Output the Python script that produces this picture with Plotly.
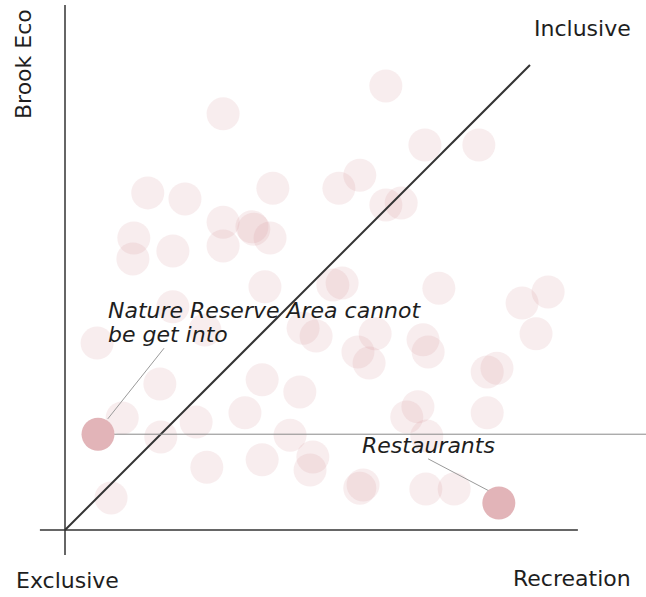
import plotly.graph_objects as go

# Background projects: x = Exclusive -> Recreation, y = Brook Eco score
proj_x = [6.90, 3.40, 7.74, 8.90, 6.34, 1.78, 2.58, 4.47, 5.89, 6.90,
          7.23, 3.40, 4.02, 4.06, 4.41, 1.48, 1.46, 2.32, 3.40, 4.30,
          5.76, 5.96, 8.04, 9.83, 10.39, 10.13, 5.12, 5.40, 6.67, 6.30,
          6.54, 7.70, 7.81, 9.08, 9.29, 5.05, 7.59, 7.35, 7.78, 9.08,
          5.33, 5.27, 6.41, 6.34, 7.76, 8.37, 2.32, 0.69, 3.01, 2.04,
          1.23, 2.06, 2.82, 4.24, 3.87, 4.84, 3.05, 4.24, 0.99]
proj_y = [9.55, 8.95, 8.28, 8.28, 7.63, 7.25, 7.12, 7.35, 7.35, 6.99,
          7.03, 6.62, 6.52, 6.47, 6.28, 6.28, 5.83, 6.00, 6.11, 5.23,
          5.27, 5.31, 5.20, 4.88, 5.12, 4.22, 4.34, 4.17, 4.22, 3.83,
          3.59, 4.09, 3.83, 3.40, 3.48, 2.97, 2.65, 2.43, 2.02, 2.52,
          1.57, 1.29, 0.97, 0.90, 0.88, 0.88, 4.80, 4.02, 4.30, 3.14,
          2.41, 2.00, 2.32, 3.23, 2.52, 2.04, 1.35, 1.51, 0.69]

# Highlighted projects
hl_names = ["Nature Reserve Area cannot<br>be get into", "Restaurants"]
hl_x = [0.71, 9.33]
hl_y = [2.06, 0.58]

# Axis extents and reference diagonal
axis_x = [-0.54, 11.03]
axis_y = [-0.54, 11.29]
diag = [0, 10]

FONT = "DejaVu Sans"
INK = "#333333"

fig = go.Figure()

fig.add_trace(go.Scatter(
    x=proj_x, y=proj_y, mode="markers",
    marker=dict(size=33, color="rgba(214,140,148,0.16)", line=dict(width=0)),
    hoverinfo="skip", showlegend=False))

# horizontal and vertical axes
fig.add_trace(go.Scatter(x=axis_x, y=[0, 0], mode="lines",
                         line=dict(color=INK, width=1.5), showlegend=False, hoverinfo="skip"))
fig.add_trace(go.Scatter(x=[0, 0], y=axis_y, mode="lines",
                         line=dict(color=INK, width=1.5), showlegend=False, hoverinfo="skip"))
# diagonal
fig.add_trace(go.Scatter(x=diag, y=diag, mode="lines",
                         line=dict(color=INK, width=2), showlegend=False, hoverinfo="skip"))
# threshold through the nature reserve point
fig.add_trace(go.Scatter(x=[hl_x[0], 12.6], y=[hl_y[0], hl_y[0]], mode="lines",
                         line=dict(color="#8a8a8a", width=1), showlegend=False, hoverinfo="skip"))
# leader lines for callouts
fig.add_trace(go.Scatter(x=[2.13, 0.92], y=[3.91, 2.39], mode="lines",
                         line=dict(color="#9a9a9a", width=1), showlegend=False, hoverinfo="skip"))
fig.add_trace(go.Scatter(x=[7.81, 9.12], y=[1.53, 0.84], mode="lines",
                         line=dict(color="#9a9a9a", width=1), showlegend=False, hoverinfo="skip"))

fig.add_trace(go.Scatter(
    x=hl_x, y=hl_y, mode="markers", text=hl_names,
    marker=dict(size=33, color="rgb(226,180,184)", line=dict(width=0)),
    hoverinfo="text", showlegend=False))

W, H = 646, 597


def px(x):
    return x / W


def py(y):
    return 1 - y / H


labels = [
    ("Inclusive", 532, 28, "left", 0, "normal"),
    ("Exclusive", 14, 580, "left", 0, "normal"),
    ("Recreation", 511, 578, "left", 0, "normal"),
    ("Brook Eco", 24, 64, "center", -90, "normal"),
    ("Nature Reserve Area cannot", 106, 310, "left", 0, "italic"),
    ("be get into", 106, 335, "left", 0, "italic"),
    ("Restaurants", 360, 445, "left", 0, "italic"),
]
for text, lx, ly, anchor, angle, style in labels:
    fig.add_annotation(
        text=text, x=px(lx), y=py(ly), xref="paper", yref="paper",
        xanchor=anchor, yanchor="middle", showarrow=False, textangle=angle,
        font=dict(family=FONT, size=22, color="#1e1e1e", style=style))

fig.update_layout(
    width=W, height=H, margin=dict(l=0, r=0, t=0, b=0),
    paper_bgcolor="white", plot_bgcolor="white",
    xaxis=dict(range=[-1.398, 12.495], visible=False, fixedrange=True),
    yaxis=dict(range=[-1.441, 11.398], visible=False, fixedrange=True),
)

fig.write_html("out.html")
